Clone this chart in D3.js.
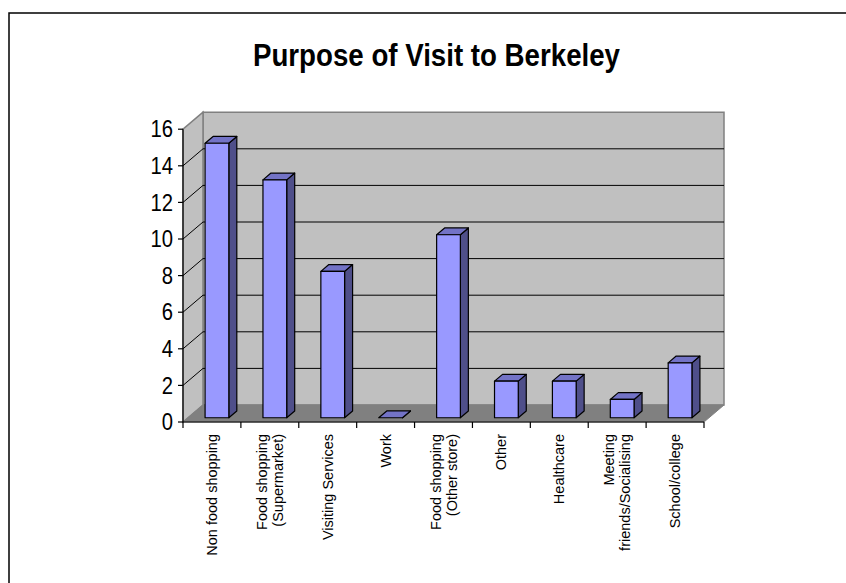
<!DOCTYPE html>
<html>
<head>
<meta charset="utf-8">
<script src="https://cdn.jsdelivr.net/npm/d3@7"></script>
<style>
  html, body { margin: 0; padding: 0; background: #fff; }
  svg { display: block; }
  text { font-family: "Liberation Sans", Arial, sans-serif; }
</style>
</head>
<body>
<svg id="chart" width="846" height="583"></svg>
<script>
const title = "Purpose of Visit to Berkeley";
const categories = [
  "Non food shopping",
  "Food shopping\n(Supermarket)",
  "Visiting Services",
  "Work",
  "Food shopping\n(Other store)",
  "Other",
  "Healthcare",
  "Meeting\nfriends/Socialising",
  "School/college"
];
const values = [15, 13, 8, 0, 10, 2, 2, 1, 3];
const yTicks = [0, 2, 4, 6, 8, 10, 12, 14, 16];

const svg = d3.select("#chart");

// frame
svg.append("rect").attr("x", 9).attr("y", 13).attr("width", 900).attr("height", 700)
  .attr("fill", "#fff").attr("stroke", "#000").attr("stroke-width", 1.5);

// title
svg.append("text").attr("x", 436.5).attr("y", 66).attr("text-anchor", "middle")
  .attr("font-size", 31).attr("font-weight", "bold")
  .attr("textLength", 367).attr("lengthAdjust", "spacingAndGlyphs")
  .text(title);

const x = d3.scaleBand().domain(categories).range([183, 704]).padding(0);
const y = d3.scaleLinear().domain([0, 16]).range([422, 129.2]);
const DX = 20, DY = -17;
const P = (px, py, f) => [px + f * DX, py + f * DY];
const poly = pts => "M" + pts.map(p => p.join(",")).join("L") + "Z";

const x0 = x.range()[0], x1 = x.range()[1];
const yMax = y(16), y0 = y(0);

// back wall
svg.append("path").attr("d", poly([P(x0, y0, 1), P(x1, y0, 1), P(x1, yMax, 1), P(x0, yMax, 1)]))
  .attr("fill", "#c0c0c0").attr("stroke", "#808080").attr("stroke-width", 1.5);
// side wall
svg.append("path").attr("d", poly([P(x0, y0, 0), P(x0, y0, 1), P(x0, yMax, 1), P(x0, yMax, 0)]))
  .attr("fill", "#c0c0c0").attr("stroke", "#808080").attr("stroke-width", 1.5);
// floor
svg.append("path").attr("d", poly([P(x0, y0, 0), P(x1, y0, 0), P(x1, y0, 1), P(x0, y0, 1)]))
  .attr("fill", "#808080").attr("stroke", "#808080").attr("stroke-width", 1);

// gridlines
const grid = svg.append("g").attr("stroke", "#000").attr("stroke-width", 1).attr("fill", "none");
yTicks.filter(v => v > 0 && v < 16).forEach(v => {
  const a = P(x0, y(v), 0), b = P(x0, y(v), 1), c = P(x1, y(v), 1);
  grid.append("path").attr("d", `M${a}L${b}L${c}`);
});

// bars
const bw = x.bandwidth();
const barW = bw * 0.41;
const f0 = 0.25, f1 = 0.65;
const bars = svg.append("g").attr("stroke", "#000").attr("stroke-width", 1.2).attr("stroke-linejoin", "round");
categories.forEach((c, i) => {
  const cx = x(c) + bw / 2;
  const l = cx - barW / 2, r = cx + barW / 2;
  const top = y(values[i]), bot = y(0);
  bars.append("path").attr("d", poly([P(r, bot, f0), P(r, bot, f1), P(r, top, f1), P(r, top, f0)]))
    .attr("fill", "#4f4f8a");
  bars.append("path").attr("d", poly([P(l, top, f0), P(r, top, f0), P(r, top, f1), P(l, top, f1)]))
    .attr("fill", "#7373c6");
  if (values[i] > 0) {
    bars.append("path").attr("d", poly([P(l, bot, f0), P(r, bot, f0), P(r, top, f0), P(l, top, f0)]))
      .attr("fill", "#9999ff");
  }
});

// y axis
const ya = svg.append("g");
ya.append("line").attr("x1", x0).attr("x2", x0).attr("y1", yMax).attr("y2", y0)
  .attr("stroke", "#000").attr("stroke-width", 1.2);
yTicks.forEach(v => {
  ya.append("line").attr("x1", x0 - 5).attr("x2", x0).attr("y1", y(v)).attr("y2", y(v))
    .attr("stroke", "#000").attr("stroke-width", 1.2);
  ya.append("text").attr("transform", `translate(173,${y(v)}) scale(0.88,1)`)
    .attr("text-anchor", "end").attr("dy", "0.36em").attr("font-size", 23).text(v);
});

// x axis
const xa = svg.append("g");
xa.append("line").attr("x1", x0).attr("x2", x1).attr("y1", y0).attr("y2", y0)
  .attr("stroke", "#000").attr("stroke-width", 1.2);
categories.concat([null]).forEach(c => {
  const tx = c === null ? x1 : x(c);
  xa.append("line").attr("x1", tx).attr("x2", tx).attr("y1", y0).attr("y2", y0 + 6)
    .attr("stroke", "#000").attr("stroke-width", 1.2);
});
const lh = 16;
categories.forEach(c => {
  const lines = c.split("\n");
  const cx = x(c) + bw / 2;
  lines.forEach((ln, j) => {
    const off = (j - (lines.length - 1) / 2) * lh;
    xa.append("text").attr("transform", `translate(${cx + off},434) rotate(-90)`)
      .attr("text-anchor", "end").attr("dy", "0.35em").attr("font-size", 14.5).text(ln);
  });
});
</script>
</body>
</html>
